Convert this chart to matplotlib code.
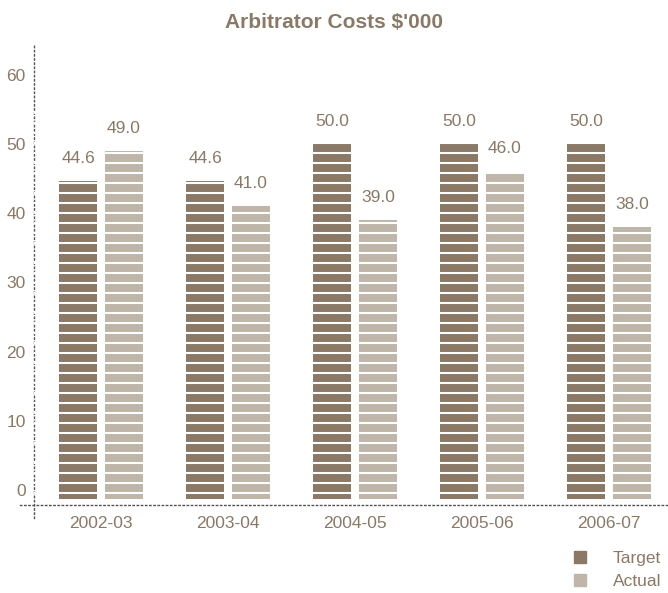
import numpy as np
import matplotlib.pyplot as plt
from matplotlib.lines import Line2D

years = ['2002-03', '2003-04', '2004-05', '2005-06', '2006-07']
target = [44.6, 44.6, 50.0, 50.0, 50.0]
actual = [49.0, 41.0, 39.0, 46.0, 38.0]

C_TARGET = '#8b7965'
C_ACTUAL = '#bfb5a9'
C_TEXT = '#8b7965'

plt.rcParams['font.family'] = ['Liberation Sans', 'DejaVu Sans']

fig = plt.figure(figsize=(6.68, 5.93), dpi=100)
ax = fig.add_axes([34 / 668, 1 - 505 / 593, 1 - 34 / 668, (505 - 45) / 593])

x = np.arange(len(years))
w = 0.30
off = 0.18
base = -1.3

ax.bar(x - off, np.array(target) - base, w, bottom=base, color=C_TARGET, zorder=2)
ax.bar(x + off, np.array(actual) - base, w, bottom=base, color=C_ACTUAL, zorder=2)

# white stripes across the bars
for yy in np.arange(-0.39, 55, 1.445):
    ax.axhline(yy, color='white', lw=1.5, zorder=3)

for xi, v in zip(x - off, target):
    ax.annotate(f'{v:.1f}', (xi, v), xytext=(0, 11), textcoords='offset points',
                ha='center', va='bottom', fontsize=12.5, color=C_TEXT)
for xi, v in zip(x + off, actual):
    ax.annotate(f'{v:.1f}', (xi, v), xytext=(0, 11), textcoords='offset points',
                ha='center', va='bottom', fontsize=12.5, color=C_TEXT)

ax.set_xlim(-0.528, 4.465)
ax.set_ylim(-2.17, 64.3)
ax.set_yticks([0, 10, 20, 30, 40, 50, 60])
ax.set_xticks(x)
ax.set_xticklabels(years)
ax.tick_params(axis='both', length=0, labelsize=12.5, labelcolor=C_TEXT)
ax.tick_params(axis='y', pad=6)
ax.tick_params(axis='x', pad=8)

for s in ['top', 'right']:
    ax.spines[s].set_visible(False)
for s in ['left', 'bottom']:
    ax.spines[s].set_linestyle((0, (1, 2)))
    ax.spines[s].set_color('#555555')
    ax.spines[s].set_linewidth(1.0)
ax.spines['left'].set_bounds(-4.0, 64.3)
ax.spines['bottom'].set_bounds(-0.64, 4.465)

fig.text(0.5, 1 - 22 / 593, "Arbitrator Costs $'000", ha='center', va='center',
         fontsize=15, fontweight='bold', color=C_TEXT)

handles = [Line2D([], [], marker='s', ls='', color=C_TARGET, markersize=9),
           Line2D([], [], marker='s', ls='', color=C_ACTUAL, markersize=9)]
leg = fig.legend(handles, ['Target', 'Actual'], loc='upper right',
                 bbox_to_anchor=(1.0, 1 - 544 / 593), frameon=False,
                 handlelength=1.0, handletextpad=1.4, labelspacing=0.45,
                 fontsize=12.5, borderaxespad=0.0)
for t in leg.get_texts():
    t.set_color(C_TEXT)

fig.savefig('out.png', dpi=100)
